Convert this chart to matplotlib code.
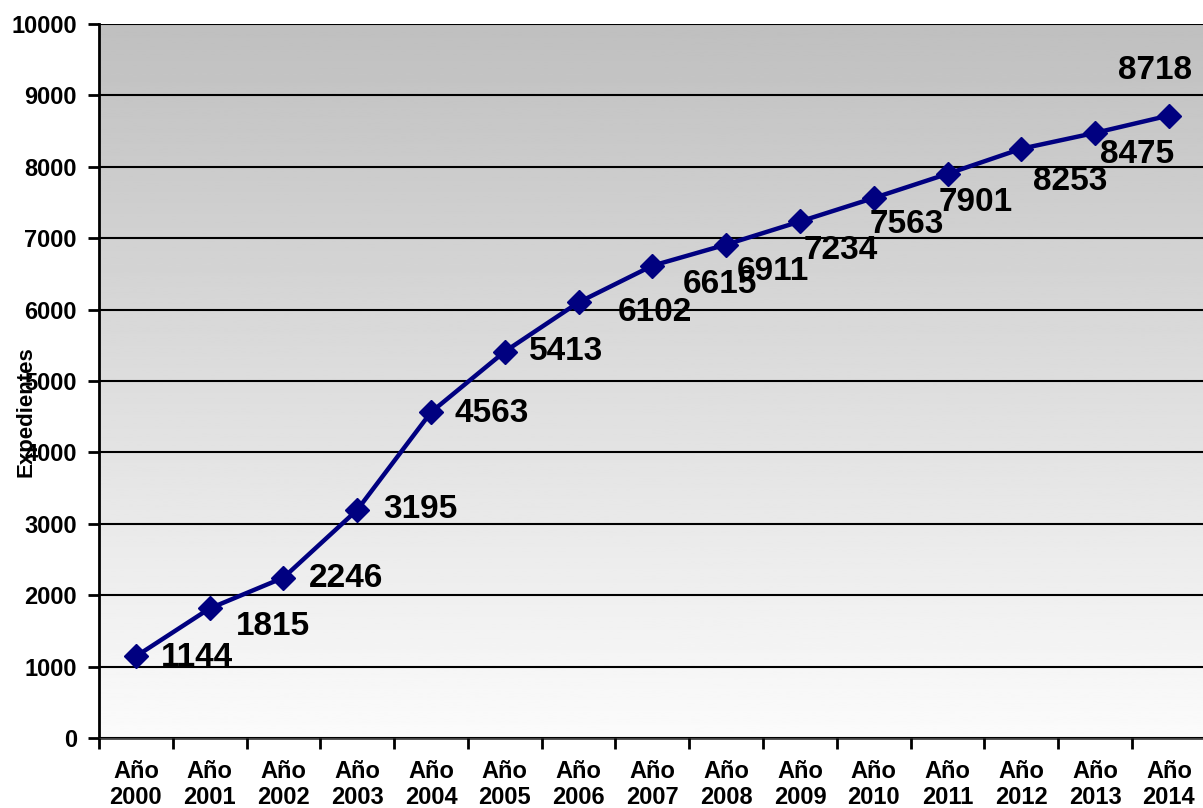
import numpy as np
import matplotlib
matplotlib.use("Agg")
import matplotlib.pyplot as plt

years = ["2000", "2001", "2002", "2003", "2004", "2005", "2006", "2007",
         "2008", "2009", "2010", "2011", "2012", "2013", "2014"]
expedientes = [1144, 1815, 2246, 3195, 4563, 5413, 6102, 6615,
               6911, 7234, 7563, 7901, 8253, 8475, 8718]

# label offsets in pixels (dx, dy) relative to each marker
label_offsets = [(61, -1), (63, -18), (63, -1), (63, 0), (61, -1), (61, 0),
                 (76, -10), (68, -19), (47, -27), (41, -29), (33, -26),
                 (28, -29), (49, -33), (42, -22), (-14, 45)]

plt.rcParams["font.family"] = ["Liberation Sans", "DejaVu Sans"]
plt.rcParams["font.weight"] = "bold"

fig = plt.figure(figsize=(12.03, 8.08), dpi=100)
ax = fig.add_axes([0.0823, 0.0866, 0.920, 0.8837])

n = len(years)
x = np.arange(n)
ax.set_xlim(-0.5, n - 0.5)
ax.set_ylim(0, 10000)

# gray-to-white gradient background
grad = np.linspace(0.985, 0.75, 256).reshape(-1, 1)
ax.imshow(grad, cmap="gray", vmin=0, vmax=1, aspect="auto",
          extent=[-0.5, n - 0.5, 0, 10000], origin="lower", zorder=0)

ax.set_yticks(np.arange(0, 10001, 1000))
ax.yaxis.grid(True, color="black", linewidth=1.5, zorder=1)
ax.set_axisbelow(False)

ax.plot(x, expedientes, color="#000080", linewidth=3.2, marker="D",
        markersize=12, zorder=3)

for xi, v, (dx, dy) in zip(x, expedientes, label_offsets):
    ax.annotate(str(v), (xi, v), xytext=(dx, dy), textcoords="offset pixels",
                ha="center", va="center", fontsize=24, fontweight="bold",
                color="black", zorder=4)

ax.set_xticks(np.arange(-0.5, n, 1.0))
ax.set_xticklabels([])
ax.set_xticks(x, minor=True)
ax.set_xticklabels(["Año\n" + y for y in years], minor=True, fontsize=17,
                   fontweight="bold", linespacing=1.15)
ax.tick_params(axis="x", which="minor", length=0, pad=16)
ax.tick_params(axis="x", which="major", length=8, width=2, direction="out")
ax.tick_params(axis="y", length=8, width=2, labelsize=17, pad=8)
for lab in ax.get_yticklabels():
    lab.set_fontweight("bold")

ax.spines["top"].set_visible(False)
ax.spines["right"].set_visible(False)
ax.spines["left"].set_linewidth(2)
ax.spines["bottom"].set_linewidth(2)
ax.spines["bottom"].set_color("#444444")

fig.text(0.022, 0.491, "Expedientes", rotation=90, ha="center", va="center",
         fontsize=16, fontweight="bold")

fig.savefig("out.png", dpi=100)
